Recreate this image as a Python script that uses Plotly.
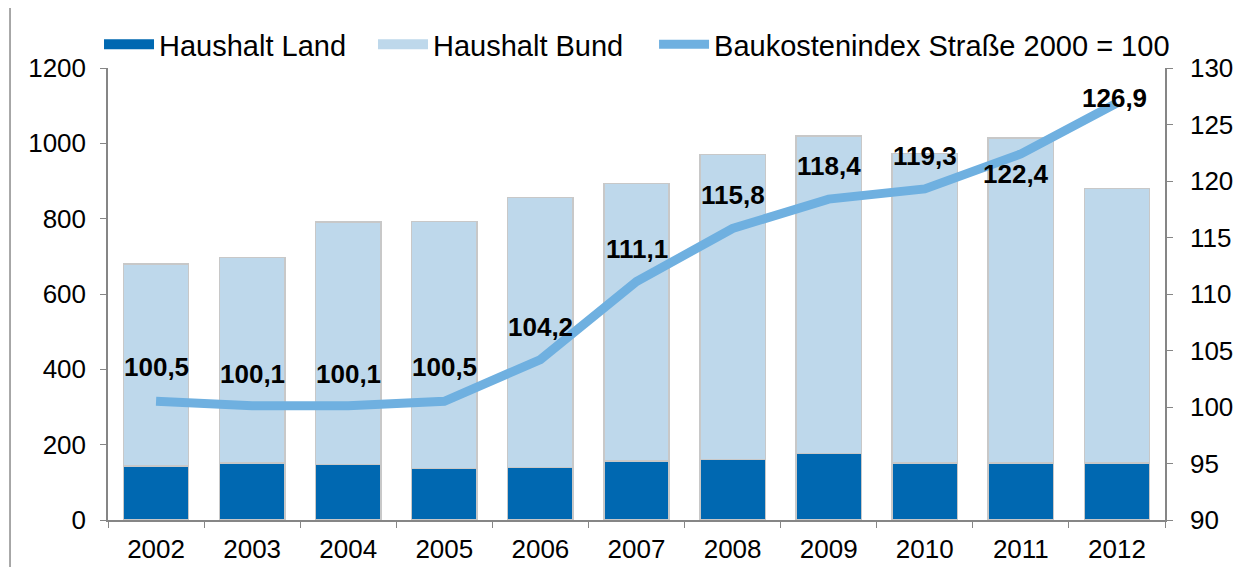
import plotly.graph_objects as go

years = ["2002", "2003", "2004", "2005", "2006", "2007", "2008", "2009", "2010", "2011", "2012"]
haushalt_land = [144, 151, 147, 137, 140, 156, 161, 177, 151, 151, 151]
haushalt_total = [680, 697, 791, 793, 856, 893, 970, 1020, 973, 1014, 880]
haushalt_bund = [t - l for t, l in zip(haushalt_total, haushalt_land)]
baukostenindex = [100.5, 100.1, 100.1, 100.5, 104.2, 111.1, 115.8, 118.4, 119.3, 122.4, 126.9]
index_labels = ["100,5", "100,1", "100,1", "100,5", "104,2", "111,1", "115,8", "118,4", "119,3", "122,4", "126,9"]

# label offsets in px (style only)
label_yshift = [34, 32, 32, 34, 33, 33, 33, 33, 33, -20, 5]
label_xshift = [0, 0, 0, 0, 0, 0, 0, 0, 0, -5, -2]

FONT = "Liberation Sans, Arial, sans-serif"
edge = dict(color="#C8C8C8", width=1.5)
C_LAND = "#0068B1"
C_BUND = "#BED8EB"
C_LINE = "#6FB0E0"

fig = go.Figure()
fig.add_trace(go.Bar(x=years, y=haushalt_land, name="Haushalt Land", showlegend=False,
                     marker=dict(color=C_LAND, line=edge)))
fig.add_trace(go.Bar(x=years, y=haushalt_bund, name="Haushalt Bund", showlegend=False,
                     marker=dict(color=C_BUND, line=edge)))
fig.add_trace(go.Scatter(x=years, y=baukostenindex, name="Baukostenindex Straße 2000 = 100",
                         mode="lines", yaxis="y2", legend="legend3",
                         line=dict(color=C_LINE, width=9)))
# legend entries for the bars drawn as wide swatches
fig.add_trace(go.Scatter(x=[None], y=[None], mode="lines", name="Haushalt Land",
                         legend="legend", line=dict(color=C_LAND, width=14)))
fig.add_trace(go.Scatter(x=[None], y=[None], mode="lines", name="Haushalt Bund",
                         legend="legend2", line=dict(color=C_BUND, width=14)))

for i, (v, lab) in enumerate(zip(baukostenindex, index_labels)):
    fig.add_annotation(x=i, y=v, xref="x", yref="y2", text="<b>" + lab + "</b>", showarrow=False,
                       xshift=label_xshift[i], yshift=label_yshift[i],
                       font=dict(family=FONT, size=26, color="#000000"))

axis_common = dict(showgrid=False, zeroline=False, showline=True, linecolor="#868686",
                   linewidth=1.5, ticks="outside", ticklen=6, tickcolor="#868686",
                   automargin=False,
                   tickfont=dict(family=FONT, size=26, color="#000000"))

leg_common = dict(orientation="h", y=1.05, xanchor="left", yanchor="middle",
                  font=dict(family=FONT, size=29, color="#000000"),
                  itemwidth=50, bgcolor="rgba(0,0,0,0)")

fig.update_layout(
    barmode="stack",
    bargap=0.32,
    width=1249, height=559,
    margin=dict(l=100, r=92, t=59, b=47),
    paper_bgcolor="white", plot_bgcolor="white",
    font=dict(family=FONT, size=26, color="#000000"),
    xaxis=dict(type="category", range=[-0.5, 10.5], tickson="boundaries",
               ticklabelstandoff=5, **axis_common),
    yaxis=dict(range=[0, 1200], tickvals=[0, 200, 400, 600, 800, 1000, 1200],
               ticklabelstandoff=9, **axis_common),
    yaxis2=dict(range=[90, 130], tickvals=[90, 95, 100, 105, 110, 115, 120, 125, 130],
                overlaying="y", side="right", ticklabelstandoff=12, **axis_common),
    legend=dict(x=-0.0085, **leg_common),
    legend2=dict(x=0.2507, **leg_common),
    legend3=dict(x=0.5166, **leg_common),
    showlegend=True,
)

fig.add_shape(type="rect", xref="paper", yref="paper",
              x0=-0.0927, x1=1.0842, y0=-0.2, y1=1.2,
              line=dict(color="#8C8C8C", width=1.5), fillcolor="rgba(0,0,0,0)", layer="below")

fig.write_html("out.html")
